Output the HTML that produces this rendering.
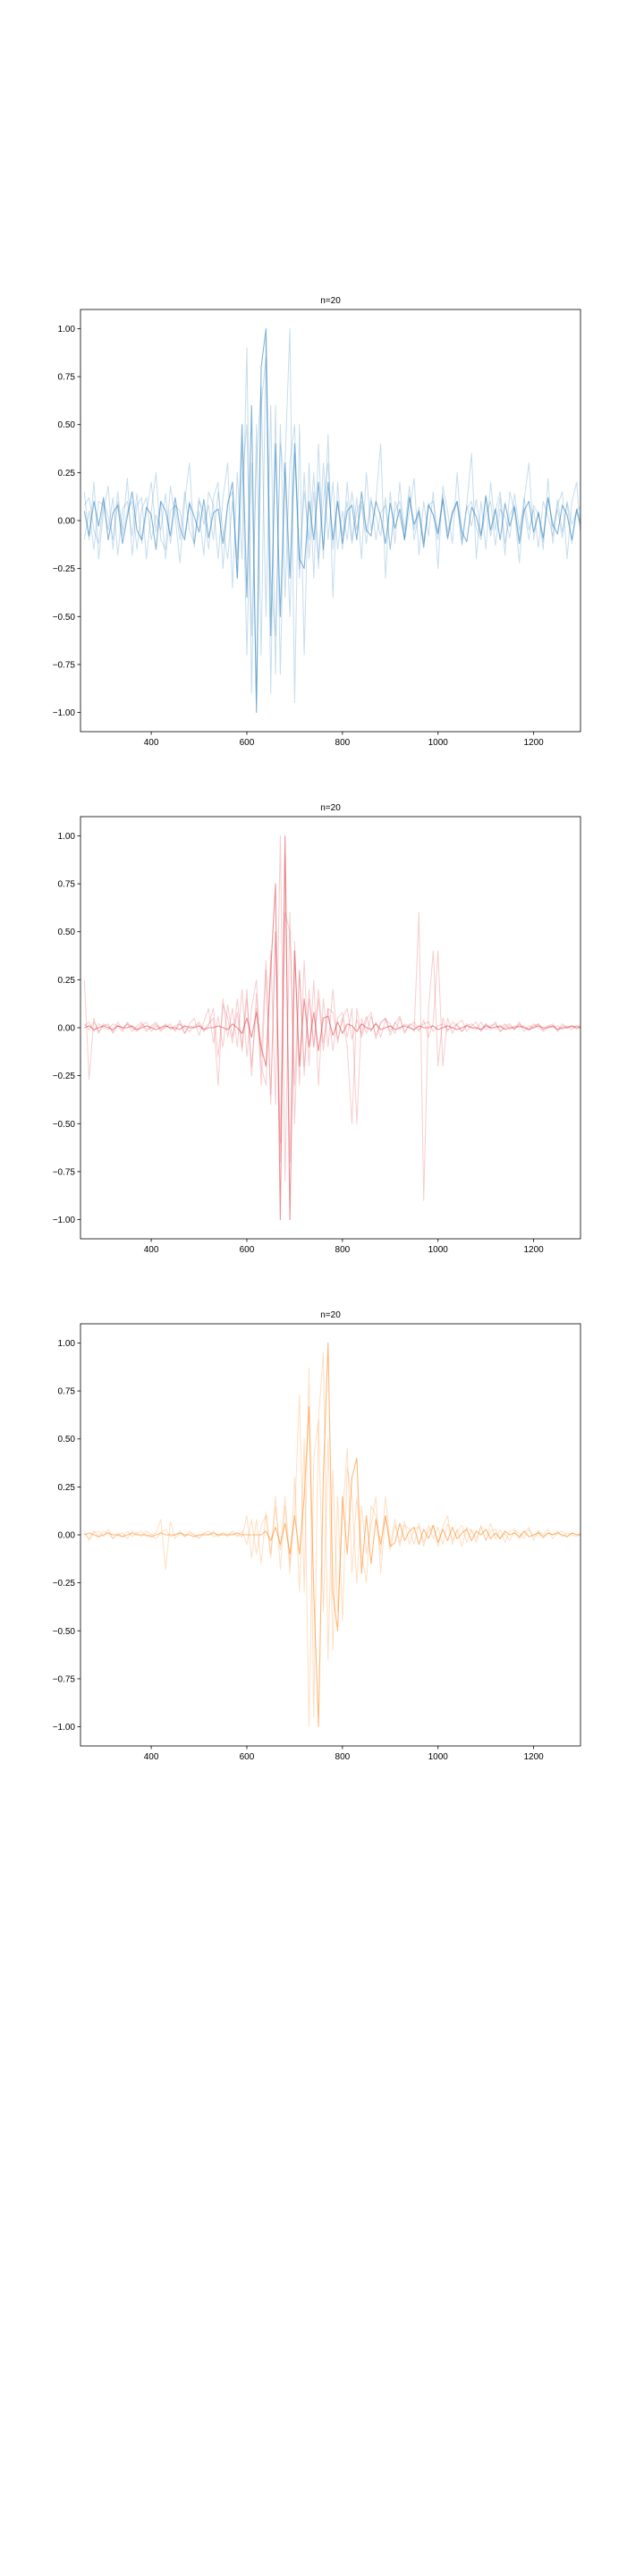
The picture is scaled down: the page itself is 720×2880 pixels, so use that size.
<!DOCTYPE html>
<html><head><meta charset="utf-8"><style>
html,body{margin:0;padding:0;background:#fff;}
#fig{position:relative;width:720px;height:2880px;background:#fff;}
svg{position:absolute;left:0;top:0;}
text{font-family:"Liberation Sans",sans-serif;font-size:10px;fill:#000;}
</style></head><body>
<div id="fig">
<svg id="svg" width="720" height="2880"></svg>
</div>
<script>
const xStart = 260, xStep = 10;
const xTicks = [400, 600, 800, 1000, 1200];
const xTickLabels = ["400", "600", "800", "1000", "1200"];
const yTicks = [1, 0.75, 0.5, 0.25, 0, -0.25, -0.5, -0.75, -1];
const yTickLabels = ["1.00", "0.75", "0.50", "0.25", "0.00", "\u22120.25", "\u22120.50", "\u22120.75", "\u22121.00"];
const titles = ["n=20", "n=20", "n=20"];

const blueA = [0.05,-0.08,0.1,-0.03,0.12,-0.1,0.04,0.08,-0.12,0.02,0.15,-0.05,-0.1,0.07,0.03,-0.15,0.1,0.05,-0.08,0.12,-0.04,-0.1,0.09,0.02,-0.06,0.11,-0.09,0.04,0.06,-0.12,0.08,
0.2,-0.3,0.5,-0.4,0.6,-1.0,0.8,1.0,-0.6,0.4,-0.5,0.3,-0.3,0.4,-0.2,-0.25,0.1,-0.1,0.2,-0.15,0.2,-0.1,
0.1,-0.12,0.05,0.08,-0.1,0.15,-0.05,-0.08,0.1,0.02,-0.12,0.09,-0.04,0.06,-0.1,0.12,-0.02,0.05,-0.14,0.08,0.03,-0.07,0.11,-0.09,0.04,0.1,-0.06,-0.11,0.07,0.02,-0.08,0.13,-0.05,0.06,-0.1,0.09,-0.03,0.07,-0.12,0.05,0.1,-0.06,0.04,-0.09,0.12,-0.02,-0.07,0.08,0.03,-0.1,0.06,-0.04];
const blueB = [0.15,-0.1,0.2,-0.2,0.05,0.18,-0.15,0.1,-0.05,0.22,-0.18,0.08,0.12,-0.2,0.05,0.25,-0.1,-0.15,0.18,0.02,-0.22,0.1,0.3,-0.12,0.05,-0.18,0.15,0.08,-0.2,0.12,0.3,
-0.35,0.25,-0.2,0.9,-0.9,0.5,-0.7,0.95,-0.9,0.6,-0.8,0.3,1.0,-0.95,0.5,-0.7,0.3,-0.3,0.4,-0.2,0.45,-0.4,0.2,
-0.15,0.2,-0.1,0.12,-0.2,0.25,-0.05,0.1,0.4,-0.3,0.15,-0.12,0.2,-0.1,0.05,0.22,-0.18,0.1,-0.08,0.15,-0.25,0.18,0.05,-0.12,0.25,-0.1,0.08,0.35,-0.2,0.1,-0.15,0.2,-0.05,0.12,-0.18,0.15,0.05,-0.22,0.1,0.3,-0.1,0.05,-0.15,0.22,-0.12,0.08,0.15,-0.2,0.1,0.2,-0.1];
const blueC = [-0.1,0.05,-0.15,0.1,0.08,-0.05,0.12,-0.18,0.06,0.1,-0.08,0.14,-0.12,0.04,0.2,-0.06,0.1,-0.2,0.05,0.08,-0.1,0.15,-0.05,-0.12,0.1,0.05,-0.15,0.12,0.2,-0.25,0.1,
0.15,-0.3,0.2,0.5,-0.6,0.3,0.7,-0.5,0.6,-0.8,0.5,-0.4,0.3,0.5,-0.3,0.25,-0.2,0.15,-0.25,0.3,-0.1,0.2,-0.15,
0.05,-0.1,0.15,-0.05,0.08,-0.12,0.1,0.02,-0.08,0.12,-0.15,0.05,0.1,-0.05,0.18,-0.1,0.04,-0.12,0.08,0.1,-0.06,0.14,-0.1,0.03,0.09,-0.13,0.06,0.1,-0.04,-0.1,0.12,-0.08,0.05,0.15,-0.12,0.03,0.08,-0.1,0.12,-0.05,0.06,-0.14,0.1,0.02,-0.08,0.11,-0.06,0.09,-0.12,0.05,0.08];
const blueD = [0.08,0.12,-0.05,-0.12,0.1,0.02,-0.1,0.15,-0.08,0.05,0.1,-0.15,0.06,0.12,-0.1,0.03,-0.05,0.14,-0.12,0.08,0.05,-0.08,0.1,-0.14,0.12,-0.02,0.08,-0.1,0.15,-0.05,-0.2,
0.1,-0.2,0.4,-0.7,0.3,-0.95,0.6,0.85,-0.3,-0.6,0.4,0.2,-0.5,0.35,-0.25,0.15,-0.1,0.25,-0.2,0.1,0.3,-0.15,0.1,
-0.08,0.1,-0.12,0.05,0.1,-0.06,0.12,-0.1,0.04,0.08,-0.15,0.1,0.02,-0.09,0.13,-0.05,0.07,-0.11,0.09,0.03,-0.1,0.12,-0.06,0.05,0.1,-0.12,0.08,-0.03,0.11,-0.07,0.04,0.1,-0.13,0.06,0.02,-0.09,0.14,-0.05,0.07,-0.1,0.08,0.03,-0.11,0.12,-0.04,0.06,-0.09,0.1,-0.02,0.05,-0.08];

const redA = [0,0.01,-0.01,0,0.01,0,-0.01,0.01,0,0,0.01,-0.01,0,0.01,0,-0.01,0,0.01,0,0,-0.01,0.01,0,0,0.01,-0.01,0,0,0.01,0,-0.01,0.02,0,-0.03,0.05,-0.05,0.08,-0.1,
-0.2,0.3,0.75,-1.0,1.0,-1.0,0.4,-0.2,0.15,-0.1,0.08,-0.12,0.05,0.06,-0.04,0.03,
-0.03,0.02,0.01,-0.02,0.02,0,-0.01,0.02,-0.01,0,0.01,-0.01,0,0.01,0,-0.01,0.01,0,0,0.01,-0.01,0,0.01,0,-0.01,0,0.01,0,0,-0.01,0.01,0,0,0.01,-0.01,0,0,0.01,0,-0.01,0,0.01,0,0,0.01,-0.01,0,0,0.01,0,0];
const redB = [0.02,-0.01,0.03,-0.02,0.01,0.02,-0.03,0.01,0,0.02,-0.02,0.01,0.03,-0.01,0,0.02,-0.02,0.01,0,-0.01,0.02,0,-0.02,0.01,0.03,-0.01,0.02,0.05,
-0.3,0.15,-0.05,0.1,-0.1,0.2,-0.15,0.1,0.25,-0.2,-0.3,0.4,
-0.4,1.0,-0.8,0.6,-0.5,0.3,-0.2,
0.15,-0.1,0.2,-0.08,0.1,-0.12,0.05,0.08,-0.05,0.1,-0.5,0.05,-0.03,0.06,-0.04,0.02,0.05,-0.02,0.03,-0.01,0.02,0.01,-0.02,
0.6,-0.9,0.1,0.4,-0.2,0.05,-0.02,0.03,0.01,-0.02,0.02,0,-0.01,0.03,-0.01,0.01,0.02,-0.02,0,0.01,-0.01,0.02,0,-0.01,0.01,0.02,-0.02,0,0.01,-0.01,0.02,0,-0.01,0.01,0];
const redC = [0.25,-0.27,0.05,-0.03,0.02,0.01,-0.02,0.03,-0.01,0.02,0,-0.02,0.01,0.03,-0.02,0.01,0,0.02,-0.01,0.01,0.02,-0.03,0.01,0,0.02,-0.02,0.01,0.1,-0.15,0.12,0.05,-0.08,0.15,-0.1,0.2,-0.25,0.18,-0.3,0.3,
-0.35,0.5,-0.7,0.6,0.5,-0.3,0.3,-0.25,0.2,-0.1,0.15,-0.12,0.1,0.08,-0.06,0.05,-0.1,-0.5,
0.1,-0.05,0.04,0.08,-0.06,0.03,0.05,-0.04,0.02,0.06,-0.03,0.02,0.01,-0.02,0.04,-0.05,0.03,0.4,-0.2,0.05,-0.03,0.02,0.04,-0.02,0.01,0.03,-0.02,0.02,0,0.03,-0.02,0.01,0.02,-0.01,0.03,-0.02,0.01,0,0.02,-0.01,0.01,0.02,-0.02,0.01,0,0.01,-0.01,0.02];
const redD = [0.01,0.03,-0.02,0.02,0,-0.01,0.02,0.01,-0.02,0.03,0,-0.01,0.02,-0.02,0.01,0.03,-0.01,0,0.02,-0.02,0.04,-0.03,0.02,0.05,-0.04,0.03,0.1,-0.08,0.06,-0.1,0.12,-0.05,0.08,-0.12,0.15,-0.2,0.1,-0.15,
0.35,-0.4,0.5,-0.6,0.9,-0.7,0.45,-0.3,0.35,-0.2,0.25,-0.3,0.15,-0.1,0.2,-0.08,0.05,
0.1,-0.06,0.04,-0.03,0.06,-0.02,0.03,-0.05,0.04,0.02,-0.03,0.05,-0.02,0.01,0.03,-0.01,0.02,0.03,-0.02,0.01,0.02,-0.01,0,0.02,-0.02,0.01,0.02,0,-0.01,0.02,-0.01,0.01,0,0.02,-0.01,0.01,0,0.01,-0.01,0.02,0,-0.01,0.01,0,0.01,-0.01,0.01,0,0.01,0];

const orangeA = [0,0.01,0,-0.01,0,0.01,0,0,-0.01,0,0.01,0,0,0,-0.01,0,0.01,0,0,0,0.01,0,0,-0.01,0,0,0,0.01,0,0,0,0,0.01,0,0,0,0,0,
0.02,-0.03,0.04,-0.05,0.06,-0.1,0.1,-0.1,0.2,0.67,-0.3,-1.0,0.3,1.0,-0.3,-0.5,0.2,-0.1,0.3,0.4,-0.2,0.1,-0.15,0.08,-0.05,0.1,-0.06,
-0.04,0.06,-0.03,0.02,0.04,-0.05,0.03,-0.02,0.05,-0.04,0.03,-0.03,0.04,-0.02,0.01,0.03,-0.03,0.02,0,0.03,-0.02,0.01,-0.02,0.02,0,0.01,-0.01,0.02,-0.01,0,0.01,-0.01,0.01,0,0.01,0,-0.01,0.01,0,0];
const orangeB = [0.01,-0.02,0.02,-0.01,0.02,0.01,-0.02,0.01,-0.01,0.02,-0.01,0.01,0.02,-0.01,0,0.01,0.08,-0.18,0.07,-0.02,0.01,-0.01,0.02,0,-0.01,0.01,0,0.02,-0.01,0.01,0,0.01,-0.01,0.02,-0.05,0.08,-0.1,0.05,
0.1,-0.12,0.15,-0.08,0.2,-0.15,0.1,0.73,-0.3,0.87,-0.95,0.6,0.95,-0.65,0.34,-0.4,0.1,0.45,-0.2,0.2,-0.1,-0.25,0.15,0.1,-0.1,0.2,-0.05,
0.08,-0.06,0.05,0.03,-0.05,0.06,-0.04,0.02,0.05,-0.06,0.04,0.1,-0.05,0.03,-0.06,0.04,0.02,-0.04,0.05,-0.03,0.06,-0.02,0.03,-0.04,0.02,0.03,-0.02,0.01,0.04,-0.03,0.02,0,0.03,-0.02,0.01,0.02,-0.01,0.01,0,0.01];
const orangeC = [0.02,-0.03,0.01,0.02,-0.01,0.03,-0.02,0,0.01,-0.02,0.02,0.01,-0.01,0.02,0,-0.02,0.01,0.03,-0.01,0,0.02,-0.01,0.01,0,-0.02,0.01,0.02,-0.01,0,0.01,-0.01,0.02,0,-0.01,0.1,-0.12,0.08,-0.15,
0.12,-0.1,0.2,-0.18,0.15,-0.2,0.3,-0.3,0.5,-1.0,0.4,0.6,-0.4,0.5,-0.6,0.2,-0.45,0.35,0.2,-0.25,0.15,-0.1,0.05,0.2,-0.2,0.1,-0.08,
0.05,-0.04,0.07,-0.05,0.03,0.04,-0.06,0.05,-0.02,0.04,-0.05,0.06,-0.03,0.02,0.05,-0.04,0.03,-0.02,0.04,-0.03,0.02,0.03,-0.02,0.01,-0.03,0.02,0.01,-0.02,0.03,-0.01,0.02,-0.02,0.01,0,0.02,-0.01,0.01,0,-0.01,0.01];

const panels = [
  {name:"blue", color:"#1f77b4", faint:[blueB, blueC, blueD], main:blueA, top:346},
  {name:"red", color:"#e0363f", faint:[redB, redC, redD], main:redA, top:913},
  {name:"orange", color:"#ff7f0e", faint:[orangeB, orangeC], main:orangeA, top:1480}
];

const NS = "http://www.w3.org/2000/svg";
const svg = document.getElementById("svg");
const L = 90, W = 559, H = 472, xMin = 252, xMax = 1298, yMin = -1.1, yMax = 1.1;
function mk(tag, attrs, parent) {
  const e = document.createElementNS(NS, tag);
  for (const k in attrs) e.setAttribute(k, attrs[k]);
  parent.appendChild(e);
  return e;
}
panels.forEach((p, pi) => {
  const T = p.top;
  const xs = v => L + (v - xMin) / (xMax - xMin) * W;
  const ys = v => T + (yMax - v) / (yMax - yMin) * H;
  const g = mk("g", {}, svg);
  
  
  const cid = "clip" + pi;
  const cp = mk("clipPath", {id: cid}, g);
  mk("rect", {x: L, y: T, width: W, height: H}, cp);
  const lines = mk("g", {"clip-path": "url(#" + cid + ")"}, g);
  
  
  const draw = (arr, op, sw, nm) => {
    const d = arr.map((v, i) => (i ? "L" : "M") + xs(xStart + i * xStep).toFixed(1) + " " + ys(v).toFixed(1)).join("");
    const path = mk("path", {d: d, fill: "none", stroke: p.color, "stroke-opacity": op, "stroke-width": sw, "stroke-linejoin": "round"}, lines);
    
    
  };
  p.faint.forEach((arr, k) => draw(arr, 0.25, 1, "trace-" + p.name + "-" + (k + 2)));
  draw(p.main, 0.55, 1.1, "trace-" + p.name + "-1");
  const frame = mk("rect", {x: L, y: T, width: W, height: H, fill: "none", stroke: "#000", "stroke-width": 0.8}, g);
  
  
  xTicks.forEach((v, i) => {
    const x = xs(v);
    mk("line", {x1: x, x2: x, y1: T + H, y2: T + H + 3.5, stroke: "#000", "stroke-width": 0.8}, g);
    const t = mk("text", {x: x, y: T + H + 15, "text-anchor": "middle"}, g);
    t.textContent = xTickLabels[i];
    
    
  });
  yTicks.forEach((v, i) => {
    const y = ys(v);
    mk("line", {x1: L - 3.5, x2: L, y1: y, y2: y, stroke: "#000", "stroke-width": 0.8}, g);
    const t = mk("text", {x: L - 6, y: y + 3.5, "text-anchor": "end"}, g);
    t.textContent = yTickLabels[i];
    
    
  });
  const tt = mk("text", {x: L + W / 2, y: T - 7, "text-anchor": "middle"}, g);
  tt.textContent = titles[pi];
  
  
});
</script>
</body></html>
